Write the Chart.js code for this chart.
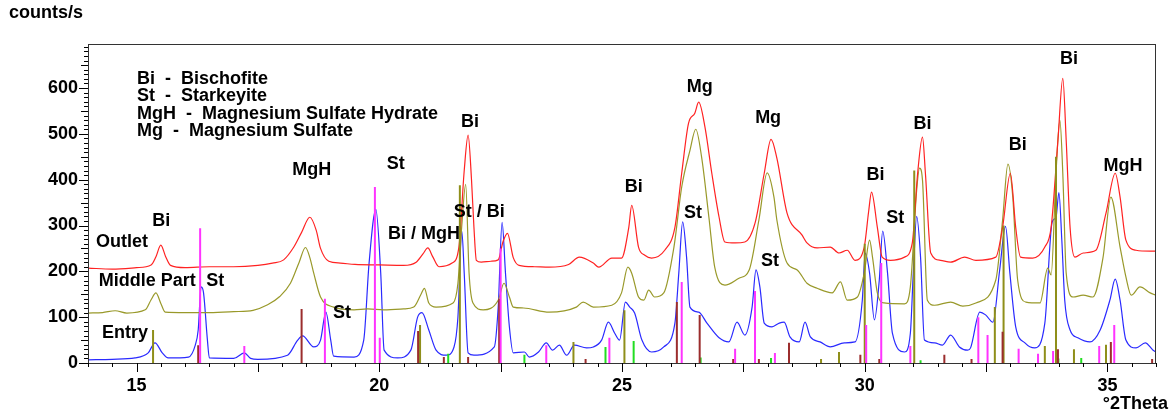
<!DOCTYPE html>
<html lang="en">
<head>
<meta charset="UTF-8">
<title>XRD patterns - Outlet / Middle Part / Entry</title>
<script src="https://cdn.jsdelivr.net/npm/chart.js"></script>
<style>
  body { margin: 0; background: #fff; }
  #wrap { width: 1170px; height: 416px; position: relative; }
</style>
</head>
<body>
<div id="wrap"><canvas id="xrd"></canvas></div>
<script>
// ---- data ----
const outletX = [14.0, 14.5, 15.0, 15.3, 15.4, 15.5, 15.6, 15.7, 16.0, 16.5, 17.0, 17.5, 17.8, 18.03, 18.24, 18.4, 18.57, 18.7, 18.79, 18.96, 19.2, 19.5, 20.0, 20.5, 20.76, 20.9, 21.0, 21.1, 21.23, 21.5, 21.64, 21.75, 21.83, 21.9, 21.95, 22.0, 22.1, 22.3, 22.45, 22.55, 22.64, 22.76, 22.88, 23.2, 23.5, 23.9, 24.12, 24.41, 24.52, 24.79, 24.99, 25.14, 25.2, 25.34, 25.47, 25.61, 25.88, 26.09, 26.23, 26.37, 26.5, 26.58, 26.71, 26.85, 27.0, 27.12, 27.33, 27.53, 27.74, 27.93, 28.07, 28.19, 28.4, 28.71, 28.81, 29.02, 29.29, 29.47, 29.64, 29.8, 29.99, 30.08, 30.14, 30.26, 30.36, 30.53, 30.82, 30.98, 31.09, 31.19, 31.25, 31.36, 31.56, 31.77, 32.06, 32.29, 32.7, 32.84, 33.0, 33.11, 33.21, 33.46, 33.71, 33.84, 33.98, 34.08, 34.15, 34.23, 34.33, 34.5, 34.76, 34.97, 35.16, 35.26, 35.38, 35.59, 35.88, 36.0];
const outletY = [207, 205, 208, 214, 232, 257, 232, 213, 208, 210, 210, 213, 218, 225, 253, 285, 318, 290, 250, 222, 218, 215, 214, 213, 220, 238, 251, 232, 210, 218, 253, 420, 497, 400, 296, 224, 220, 222, 225, 265, 283, 230, 213, 210, 209, 215, 231, 218, 209, 229, 229, 296, 344, 253, 235, 229, 246, 296, 414, 523, 545, 569, 514, 414, 318, 264, 262, 264, 305, 414, 488, 447, 327, 279, 262, 251, 253, 240, 246, 224, 253, 330, 373, 296, 231, 224, 231, 262, 414, 493, 414, 240, 224, 220, 231, 224, 231, 296, 414, 296, 231, 229, 253, 296, 486, 621, 486, 296, 231, 240, 246, 327, 414, 362, 268, 246, 244, 244];

const middleX = [14.0, 14.3, 14.56, 14.8, 15.18, 15.3, 15.4, 15.5, 15.59, 16.0, 16.5, 17.0, 17.4, 17.7, 17.95, 18.17, 18.35, 18.48, 18.57, 18.65, 18.79, 19.06, 19.48, 19.76, 20.09, 20.5, 20.71, 20.86, 20.93, 21.02, 21.17, 21.52, 21.62, 21.7, 21.78, 21.85, 21.93, 22.14, 22.45, 22.57, 22.68, 22.76, 22.97, 23.5, 24.06, 24.2, 24.41, 24.79, 24.99, 25.12, 25.2, 25.34, 25.45, 25.55, 25.67, 25.86, 26.07, 26.23, 26.4, 26.52, 26.64, 26.79, 26.91, 27.12, 27.41, 27.62, 27.82, 27.99, 28.13, 28.19, 28.4, 28.61, 28.81, 29.02, 29.33, 29.5, 29.64, 29.85, 29.99, 30.1, 30.16, 30.26, 30.4, 30.82, 30.94, 31.07, 31.13, 31.19, 31.29, 31.44, 31.77, 32.02, 32.29, 32.7, 32.84, 32.95, 33.05, 33.15, 33.32, 33.61, 33.77, 33.84, 33.94, 34.02, 34.08, 34.15, 34.29, 34.5, 34.7, 34.91, 35.07, 35.26, 35.38, 35.49, 35.67, 35.88, 36.0];
const middleY = [109, 110, 114, 109, 116, 138, 153, 130, 111, 110, 110, 112, 115, 127, 145, 174, 220, 252, 230, 196, 144, 122, 116, 118, 116, 118, 122, 150, 163, 131, 122, 131, 174, 300, 390, 196, 131, 116, 137, 174, 144, 122, 120, 111, 122, 133, 122, 126, 153, 209, 196, 144, 137, 159, 144, 153, 253, 384, 464, 510, 449, 318, 209, 170, 185, 203, 312, 415, 362, 312, 218, 203, 174, 163, 153, 177, 137, 144, 196, 268, 231, 153, 131, 129, 166, 377, 425, 399, 137, 126, 133, 124, 131, 181, 312, 434, 362, 181, 133, 131, 207, 192, 414, 530, 414, 196, 144, 148, 144, 231, 362, 253, 188, 148, 166, 153, 148];

const entryX = [14.0, 14.5, 14.97, 15.24, 15.38, 15.53, 15.65, 16.07, 16.21, 16.27, 16.33, 16.38, 16.46, 16.5, 17.0, 17.22, 17.35, 17.5, 18.11, 18.32, 18.42, 18.65, 18.79, 18.9, 19.0, 19.06, 19.48, 19.68, 19.79, 19.93, 20.03, 20.1, 20.38, 20.65, 20.79, 20.88, 21.02, 21.17, 21.38, 21.54, 21.62, 21.7, 21.75, 21.83, 21.95, 22.37, 22.45, 22.53, 22.6, 22.68, 22.76, 22.99, 23.09, 23.28, 23.44, 23.57, 23.71, 23.86, 24.02, 24.27, 24.41, 24.58, 24.72, 24.85, 24.95, 25.07, 25.16, 25.26, 25.41, 25.61, 25.86, 26.09, 26.17, 26.25, 26.33, 26.4, 26.58, 26.75, 27.0, 27.2, 27.37, 27.53, 27.68, 27.76, 27.84, 27.93, 28.09, 28.24, 28.34, 28.46, 28.65, 28.77, 28.88, 29.08, 29.29, 29.58, 29.8, 29.95, 30.01, 30.1, 30.2, 30.3, 30.37, 30.47, 30.57, 30.82, 30.94, 31.0, 31.07, 31.15, 31.23, 31.44, 31.6, 31.77, 31.95, 32.12, 32.18, 32.37, 32.49, 32.64, 32.78, 32.9, 32.99, 33.11, 33.3, 33.5, 33.71, 33.86, 33.94, 34.0, 34.06, 34.12, 34.23, 34.39, 34.64, 34.85, 35.05, 35.16, 35.26, 35.38, 35.59, 35.78, 35.94, 36.0];
const entryY = [7, 8, 11, 22, 44, 22, 11, 13, 39, 72, 166, 153, 50, 11, 10, 22, 10, 8, 17, 50, 59, 35, 50, 111, 50, 15, 13, 50, 218, 335, 196, 28, 11, 28, 100, 110, 72, 28, 17, 35, 100, 288, 196, 22, 17, 35, 122, 307, 196, 79, 22, 24, 13, 24, 44, 28, 39, 17, 39, 33, 35, 50, 89, 65, 50, 133, 122, 109, 50, 24, 35, 87, 196, 308, 231, 122, 111, 87, 55, 46, 89, 61, 122, 203, 166, 87, 79, 87, 89, 57, 46, 89, 57, 46, 35, 44, 46, 137, 240, 196, 94, 181, 288, 196, 65, 24, 65, 196, 320, 231, 50, 44, 39, 61, 35, 28, 33, 111, 105, 89, 203, 298, 196, 79, 44, 33, 87, 307, 318, 372, 268, 137, 72, 55, 46, 72, 137, 183, 137, 50, 33, 44, 28, 24];

// reference stick patterns (position, height)
const stX = [16.31, 17.22, 18.88, 19.91, 20.01, 22.5, 23.44, 24.74, 26.23, 27.33, 27.74, 28.15, 30.03, 30.34, 30.94, 32.34, 32.53, 33.17, 33.57, 33.88, 34.83, 35.14];
const stH = [294, 37, 140, 384, 55, 250, 39, 55, 177, 31, 157, 22, 83, 218, 37, 100, 61, 31, 20, 26, 37, 83];
const mghX = [16.27, 18.4, 20.8, 21.33, 21.83, 22.47, 24.25, 26.13, 26.6, 27.29, 27.82, 28.44, 29.91, 30.3, 31.64, 32.2, 32.84, 33.98, 35.07, 35.92];
const mghH = [39, 118, 70, 13, 13, 140, 9, 133, 105, 9, 9, 44, 18, 9, 18, 9, 68, 30, 46, 9];
const biX = [15.34, 20.84, 21.66, 24.0, 25.05, 29.1, 29.47, 30.0, 31.02, 32.68, 32.86, 33.71, 33.94, 34.31, 34.97];
const biH = [72, 83, 388, 46, 115, 9, 24, 260, 420, 122, 300, 37, 450, 30, 40];
const mgX = [21.42, 22.99, 24.66, 25.24, 26.62, 28.07, 31.15, 33.99, 34.46];
const mgH = [20, 18, 35, 48, 12, 11, 6, 10, 11];

const xTickLabels = [15, 20, 25, 30, 35];
const yTickLabels = [0, 100, 200, 300, 400, 500, 600];

// peak labels: text, 2theta, counts
const peakText = ['Bi', 'Outlet', 'MgH', 'St', 'Bi / MgH', 'Bi', 'St / Bi', 'Bi', 'Mg', 'St', 'Mg', 'St', 'Bi', 'St', 'Bi', 'Bi', 'Bi', 'MgH', 'Middle Part', 'St', 'St', 'Entry'];
const peakX = [15.51, 14.70, 18.61, 20.34, 20.92, 21.87, 22.06, 25.24, 26.60, 26.46, 28.01, 28.05, 30.22, 30.63, 31.19, 33.15, 34.21, 35.32, 15.22, 16.62, 19.23, 14.76];
const peakY = [310, 264, 421, 434, 281, 526, 329, 384, 602, 327, 535, 223, 410, 316, 521, 476, 663, 430, 179, 179, 109, 65];

const legendLines = ['Bi  -  Bischofite', 'St  -  Starkeyite', 'MgH  -  Magnesium Sulfate Hydrate', 'Mg  -  Magnesium Sulfate'];

// ---- helpers ----
function pts(xs, ys) {
    return xs.map((x, i) => ({ x: x, y: ys[i] }));
}
function sticks(xs, hs) {
    const out = [];
    xs.forEach((x, i) => {
        out.push({ x: x, y: 0 }, { x: x, y: hs[i] }, { x: x, y: null });
    });
    return out;
}

const FAMILY = '"Liberation Sans", Arial, sans-serif';
const FONT = 'bold 18px ' + FAMILY;

// axis frame, tick marks of 3 lengths, texts
const decor = {
    id: 'decor',
    afterDraw(chart) {
        const ctx = chart.ctx;
        const a = chart.chartArea;
        const xs = chart.scales.x, ys = chart.scales.y;
        ctx.save();
        ctx.strokeStyle = '#333';
        ctx.lineWidth = 1;
        ctx.strokeRect(a.left + 0.5, a.top + 0.5, a.right - a.left - 1, a.bottom - a.top);

        ctx.strokeStyle = '#000';
        ctx.beginPath();
        for (let v = 0; v <= 690; v += 10) {
            const y = Math.round(ys.getPixelForValue(v)) + 0.5;
            const len = v % 100 === 0 ? 9 : (v % 50 === 0 ? 7 : 4);
            ctx.moveTo(a.left, y); ctx.lineTo(a.left - len, y);
        }
        for (let k = 0; k <= 44; k++) {
            const v = 14 + k * 0.5;
            const x = Math.round(xs.getPixelForValue(v)) + 0.5;
            const len = (v % 2.5 === 0) ? 9 : 4;
            ctx.moveTo(x, a.bottom); ctx.lineTo(x, a.bottom + len);
        }
        ctx.stroke();

        ctx.fillStyle = '#000';
        ctx.font = FONT;
        ctx.textBaseline = 'middle';
        ctx.textAlign = 'left';
        ctx.fillText('counts/s', 9, 13);
        legendLines.forEach((t, i) => ctx.fillText(t, 137, 79 + i * 17.5));
        ctx.textAlign = 'right';
        ctx.fillText('°2Theta', 1168, 404);

        ctx.textAlign = 'center';
        peakText.forEach((t, i) => {
            ctx.fillText(t, xs.getPixelForValue(peakX[i]), ys.getPixelForValue(peakY[i]));
        });
        ctx.restore();
    }
};

const trace = (data, color) => ({
    data: data, borderColor: color, borderWidth: 1.2,
    pointRadius: 0, cubicInterpolationMode: 'monotone', fill: false
});
const stickSet = (data, color) => ({
    data: data, borderColor: color, borderWidth: 2,
    pointRadius: 0, spanGaps: false, fill: false
});

new Chart(document.getElementById('xrd'), {
    type: 'line',
    data: {
        datasets: [
            stickSet(sticks(stX, stH), '#ff33ff'),
            stickSet(sticks(mghX, mghH), '#9b2d2d'),
            stickSet(sticks(biX, biH), '#8f8f1a'),
            stickSet(sticks(mgX, mgH), '#22dd22'),
            trace(pts(outletX, outletY), '#ff2222'),
            trace(pts(middleX, middleY), '#99992a'),
            trace(pts(entryX, entryY), '#2a2aff')
        ]
    },
    options: {
        responsive: true,
        maintainAspectRatio: false,
        animation: false,
        layout: { padding: { top: 44, right: 14, left: 0, bottom: 0 } },
        plugins: { legend: { display: false }, tooltip: { enabled: false } },
        scales: {
            x: {
                type: 'linear', min: 14, max: 36,
                grid: { display: false, drawTicks: false, tickLength: 0 },
                border: { display: false },
                afterBuildTicks: s => { s.ticks = xTickLabels.map(v => ({ value: v })); },
                afterFit: s => { s.height = 53; },
                ticks: { color: '#000', padding: 12, maxRotation: 0, font: { family: FAMILY, size: 18, weight: 'bold' } }
            },
            y: {
                type: 'linear', min: 0, max: 696,
                grid: { display: false, drawTicks: false, tickLength: 0 },
                border: { display: false },
                afterBuildTicks: s => { s.ticks = yTickLabels.map(v => ({ value: v })); },
                afterFit: s => { s.width = 88; },
                ticks: { color: '#000', padding: 10, font: { family: FAMILY, size: 18, weight: 'bold' } }
            }
        }
    },
    plugins: [decor]
});
</script>
</body>
</html>
